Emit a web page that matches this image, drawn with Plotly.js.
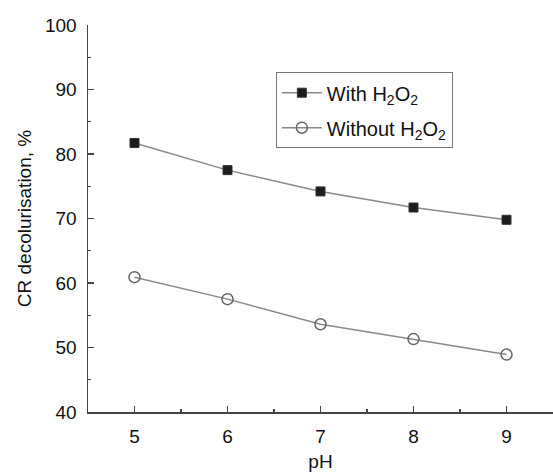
<!DOCTYPE html>
<html>
<head>
<meta charset="utf-8">
<script src="https://cdn.plot.ly/plotly-3.0.1.min.js"></script>
<style>html,body{margin:0;padding:0;background:#fff;}#chart{width:553px;height:476px;}</style>
</head>
<body>
<div id="chart"></div>
<script>
const pH = [5, 6, 7, 8, 9];
const withH2O2 = [81.7, 77.5, 74.2, 71.7, 69.8];
const withoutH2O2 = [60.9, 57.5, 53.6, 51.3, 48.9];
const seriesNames = ["With H<sub>2</sub>O<sub>2</sub>", "Without H<sub>2</sub>O<sub>2</sub>"];
const xTicks = [5, 6, 7, 8, 9];
const yTicks = [40, 50, 60, 70, 80, 90, 100];

const font = {family: "Liberation Sans, Arial, sans-serif", size: 19, color: "#111"};

const traces = [
  {x: pH, y: withH2O2, name: seriesNames[0], legendgroup: "a", mode: "lines+markers", type: "scatter",
   line: {color: "#8a8a8a", width: 1.5},
   marker: {symbol: "square", size: 9, color: "#1c1c1c", line: {color: "#333", width: 1}}},
  {x: pH, y: withoutH2O2, name: seriesNames[1], legendgroup: "b", mode: "lines+markers", type: "scatter",
   line: {color: "#8a8a8a", width: 1.5},
   marker: {symbol: "circle-open", size: 11, color: "#666", line: {color: "#666", width: 1.5}}}
];

const axisCommon = {
  showgrid: false, zeroline: false, showline: true, linecolor: "#444", linewidth: 1.5,
  ticks: "inside", ticklen: 6, tickwidth: 1.2, tickcolor: "#444",
  tickfont: font, mirror: false
};

const layout = {
  width: 553, height: 476,
  margin: {l: 88, r: 0, t: 25, b: 64},
  paper_bgcolor: "#fff", plot_bgcolor: "#fff",
  font: font,
  showlegend: true,
  legend: {x: 0.404, y: 0.878, xanchor: "left", yanchor: "top",
           bordercolor: "#777", borderwidth: 1, bgcolor: "#fff",
           font: {family: font.family, size: 20, color: "#111"},
           itemwidth: 40, tracegroupgap: 6},
  xaxis: Object.assign({}, axisCommon, {
    range: [4.5, 9.5], tickvals: xTicks, ticktext: xTicks.map(String),
    ticklabelstandoff: 7,
    minor: {dtick: 0.5, ticklen: 3, tickcolor: "#444", ticks: "inside"},
    title: {text: "pH", font: font, standoff: 8}
  }),
  yaxis: Object.assign({}, axisCommon, {
    range: [40, 100], tickvals: yTicks, ticktext: yTicks.map(String),
    ticklabelstandoff: 6,
    minor: {dtick: 5, ticklen: 3, tickcolor: "#444", ticks: "inside"},
    title: {text: "CR decolurisation, %", font: font, standoff: 8}
  })
};

Plotly.newPlot("chart", traces, layout, {displayModeBar: false, staticPlot: true});
</script>
</body>
</html>
